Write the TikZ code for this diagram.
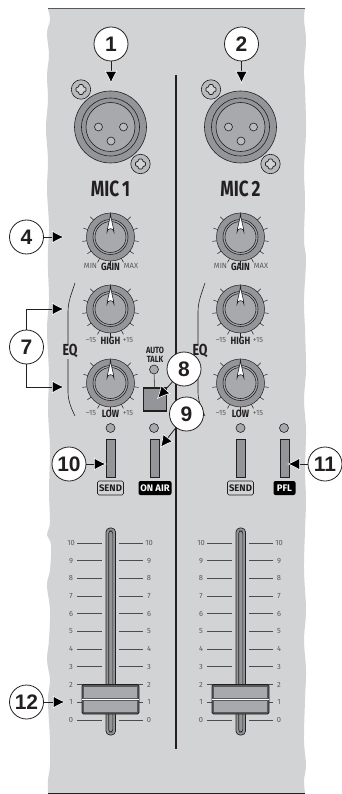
\documentclass[tikz,border=0pt]{standalone}
\usepackage{fontspec}
\setmainfont{Liberation Sans}
\newfontfamily\labfont{Fira Sans}
\usetikzlibrary{arrows.meta}
\definecolor{panel}{HTML}{D1D3D4}
\definecolor{midgray}{HTML}{939598}
\definecolor{lightgray}{HTML}{A7A9AC}
\definecolor{darkline}{HTML}{231F20}
\definecolor{softgray}{HTML}{58595B}
\tikzset{
  callout/.style={circle,draw=darkline,fill=white,line width=0.8pt,minimum size=34pt,inner sep=0pt,font=\bfseries\fontsize{21}{21}\selectfont,text=darkline},
  ptr/.style={draw=darkline,line width=0.8pt,-{Latex[length=13pt,width=13pt,color=white,fill=black,line width=0.6pt]}},
  biglab/.style={inner sep=0pt,font=\labfont\bfseries\fontsize{22}{22}\selectfont,text=darkline,xscale=.78,transform shape},
  midlab/.style={inner sep=0pt,font=\labfont\bfseries\fontsize{10.5}{10.5}\selectfont,text=darkline,xscale=.82,transform shape},
  smalllab/.style={inner sep=0pt,font=\labfont\fontsize{7.5}{7.5}\selectfont,text=softgray},
  knobpart/.style={draw=darkline,line width=0.6pt},
  pilot/.style={circle,draw=darkline,fill=lightgray,line width=0.6pt,minimum size=9pt,inner sep=0pt},
  switchbar/.style={draw=darkline,fill=midgray,line width=0.6pt},
  tickline/.style={draw=softgray!85!black,line width=1pt},
  knob/.pic={
    \foreach \a in {-135,-108,...,135}
      \draw[darkline,line width=0.5pt] (90+\a:22) -- (90+\a:28.5);
    \fill[midgray,draw=darkline,line width=0.5pt] (0,0) circle (24);
    \draw[knobpart,fill=lightgray] (0,0) circle (17.5);
    \draw[knobpart,fill=lightgray] (0,0) circle (15.5);
    \draw[knobpart,fill=white] (0,-23) .. controls (1.2,-14) and (3.4,-9) .. (3.4,-5)
      arc[start angle=0,end angle=180,radius=3.4,y radius=-3.4]
      .. controls (-3.4,-9) and (-1.2,-14) .. cycle;
  },
  screw/.pic={
    \draw[darkline,fill=lightgray!60!panel,line width=0.6pt] (0,0) circle (9.7);
    \draw[darkline,fill=panel,line width=0.7pt,rounded corners=1pt]
      (-5,-2.2) -- (-2.2,-2.2) -- (-2.2,-5) -- (2.2,-5) -- (2.2,-2.2) -- (5,-2.2) -- (5,2.2) -- (2.2,2.2) -- (2.2,5) -- (-2.2,5) -- (-2.2,2.2) -- (-5,2.2) -- cycle;
  }
}
\begin{document}
\begin{tikzpicture}[x=1pt,y=-1pt]
\useasboundingbox (0,0) rectangle (342,794);
% panel with torn edges
\fill[panel] plot[smooth,tension=.6] coordinates {(48,9) (50,20) (47,33) (49,55) (47,75) (48,100) (46,128) (48,160) (47,190) (49,225) (48,250) (48,270) (49,300) (47,330) (49,375) (48,410) (50,450) (49,490) (50,520) (49,528) (47,535) (51,545) (50,570) (47,585) (50,610) (49,640) (47,660) (50,680) (48,700) (50,740) (50,765) (48,780) (48,793)}
 -- plot[smooth,tension=.6] coordinates {(305,793) (304,780) (306,765) (304,740) (305,700) (306,670) (304,640) (306,610) (304,570) (305,530) (306,500) (305,470) (306,430) (304,400) (306,370) (305,330) (304,300) (306,260) (304,240) (305,200) (304,170) (306,130) (305,90) (304,70) (306,40) (304,20) (305,9)} -- cycle;
\draw[softgray,line width=1pt] (48,9) -- (305,9);
\draw[darkline,line width=0.8pt] (48,793) -- (305,793);
\coordinate (divtop) at (176,75);
\coordinate (divbot) at (176,749);
\draw[darkline,line width=1.4pt] (divtop) -- (divbot);

\foreach \dx/\cap in {0/MIC\,1,130/MIC\,2}{
\begin{scope}[xshift=\dx pt]
  % connector socket
  \draw[darkline,fill=midgray,line width=0.6pt] (110.5,127) circle (36);
  \draw[darkline,fill=midgray,line width=0.6pt] (110.5,127) circle (29);
  \draw[darkline,fill=lightgray,line width=0.6pt] (110.5,127) circle (24.5);
  \foreach \hx/\hy in {98.5/127,123.5/127,111/141}
    \draw[darkline,fill=lightgray!60!panel,line width=0.6pt] (\hx,\hy) circle (4);
  \pic at (81,89.5) {screw};
  \pic at (140.5,164) {screw};
  \node[biglab] (mic\dx) at (110.5,189) {\cap};
  % knobs
  \pic at (110.5,237) {knob};
  \pic at (110.5,309) {knob};
  \pic at (110.5,383) {knob};
  \node[smalllab] (minl\dx) at (90.5,265.5) {MIN};
  \node[midlab] (gain\dx) at (110.5,267) {GAIN};
  \node[smalllab] (maxl\dx) at (131,265.5) {MAX};
  \node[smalllab] (hm\dx) at (91,340) {–15};
  \node[midlab] (high\dx) at (110.5,340.5) {HIGH};
  \node[smalllab] (hp\dx) at (128,340) {+15};
  \node[smalllab] (lm\dx) at (91,413) {–15};
  \node[midlab] (low\dx) at (110.5,414) {LOW};
  \node[smalllab] (lp\dx) at (128,413) {+15};
  % EQ
  \node[biglab,font=\labfont\bfseries\fontsize{16}{16}\selectfont] (eq\dx) at (70,351) {EQ};
  \draw[darkline,line width=0.6pt] (75,283) .. controls (71,295) and (68,302) .. (68,312) -- (68,344);
  \draw[darkline,line width=0.6pt] (68,359) -- (68,392) .. controls (68,400) and (71,408) .. (75,416);
  % pilots, switches, legends
  \node[pilot] (pa\dx) at (110.5,428) {};
  \node[pilot] (pb\dx) at (154,428) {};
  \filldraw[switchbar] (106,439) rectangle (115.5,477);
  \filldraw[switchbar] (150,439) rectangle (159.5,477);
  \node[draw=darkline,fill=panel,rounded corners=1.5pt,line width=0.6pt,minimum width=26pt,minimum height=14pt,inner sep=0pt,font=\labfont\bfseries\fontsize{9.5}{9.5}\selectfont,text=darkline] (send\dx) at (110.5,488) {SEND};
  % fader
  \foreach \n [evaluate=\n as \yy using 720-17.7*\n] in {0,...,10}{
    \coordinate (la\n) at (77,\yy);
    \coordinate (lb\n) at (102,\yy);
    \coordinate (ra\n) at (119,\yy);
    \coordinate (rb\n) at (143,\yy);
    \draw[tickline] (la\n) -- (lb\n);
    \draw[tickline] (ra\n) -- (rb\n);
    \node[smalllab] (fl\dx-\n) at (71,\yy) {\n};
    \node[smalllab] (fr\dx-\n) at (149,\yy) {\n};
  }
  \draw[darkline,fill=midgray,line width=0.7pt,rounded corners=4pt] (106,528) rectangle (115.5,735);
  \draw[darkline,fill=midgray,line width=0.6pt,rounded corners=2.5pt] (108.7,531) rectangle (112.8,732);
  \draw[darkline,fill=softgray,line width=0.8pt,rounded corners=1.5pt] (82,684.5) rectangle (139,714);
  \fill[lightgray] (84,686.5) rectangle (137,697.5);
  \fill[lightgray] (84,701) rectangle (137,712);
  \draw[white,line width=1.3pt] (82,699.2) -- (139,699.2);
\end{scope}
}
% channel 1 extras
\node[midlab,font=\labfont\bfseries\fontsize{9}{9}\selectfont] (auto) at (155,350) {AUTO};
\node[midlab,font=\labfont\bfseries\fontsize{9}{9}\selectfont] (talk) at (155,359) {TALK};
\node[pilot] (atled) at (154,369.5) {};
\node[draw=darkline,fill=midgray,line width=1.2pt,minimum size=23pt,inner sep=0pt] (atbtn) at (155,399.5) {};
\draw[softgray,line width=0.8pt] (atled) -- (atbtn);
\node[fill=black,rounded corners=2pt,minimum width=33pt,minimum height=14pt,inner sep=0pt,text=white,font=\labfont\bfseries\fontsize{9.5}{9.5}\selectfont] (onair) at (155,488) {ON AIR};
\node[fill=black,rounded corners=2pt,minimum width=22pt,minimum height=14pt,inner sep=0pt,text=white,font=\labfont\bfseries\fontsize{9.5}{9.5}\selectfont] (pfl) at (284.5,488) {PFL};
% callouts
\node[callout] (c1) at (111,44) {1};
\node[callout] (c2) at (241.5,44) {2};
\node[callout] (c4) at (26.5,237) {4};
\node[callout] (c7) at (26.5,347) {7};
\node[callout] (c8) at (184,369) {8};
\node[callout] (c9) at (186.5,414) {9};
\node[callout] (c10) at (69,464) {10};
\node[callout] (c11) at (325,464) {11};
\node[callout] (c12) at (26.5,702) {12};
\coordinate (t1) at (111,84);
\coordinate (t2) at (241.5,84);
\coordinate (t4) at (65,237);
\coordinate (t7a) at (65,309);
\coordinate (t7b) at (65,387);
\coordinate (t8) at (157,399);
\coordinate (t9) at (160,448);
\coordinate (t10) at (107,464);
\coordinate (t11) at (287,464);
\coordinate (t12) at (66,702);
\draw[ptr] (c1) -- (t1);
\draw[ptr] (c2) -- (t2);
\draw[ptr] (c4) -- (t4);
\draw[ptr] (c7) |- (t7a);
\draw[ptr] (c7) |- (t7b);
\draw[ptr] (c8) -- (t8);
\draw[ptr] (c9) -- (t9);
\draw[ptr] (c10) -- (t10);
\draw[ptr] (c11) -- (t11);
\draw[ptr] (c12) -- (t12);
\end{tikzpicture}
\end{document}
